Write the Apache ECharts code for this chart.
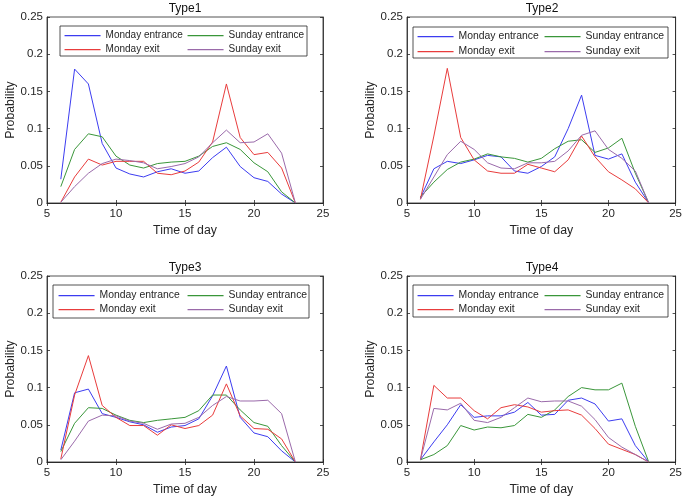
<!DOCTYPE html>
<html>
<head>
<meta charset="utf-8">
<script src="https://cdn.jsdelivr.net/npm/echarts@6/dist/echarts.min.js"></script>
<style>
html,body{margin:0;padding:0;background:#fff;}
#main{width:685px;height:503px;}
</style>
</head>
<body>
<div id="main"></div>
<script>
var hours = [6,7,8,9,10,11,12,13,14,15,16,17,18,19,20,21,22,23];
var seriesNames = ['Monday entrance','Sunday entrance','Monday exit','Sunday exit'];
var panelTitles = ['Type1','Type2','Type3','Type4'];
var xTicks = [5,10,15,20,25];
var yTicks = [0,0.05,0.1,0.15,0.2,0.25];

var type1MonEntrance = [0.032,0.180,0.160,0.080,0.047,0.039,0.035,0.042,0.046,0.040,0.043,0.061,0.075,0.049,0.034,0.029,0.012,0];
var type1SunEntrance = [0.022,0.072,0.093,0.089,0.063,0.051,0.047,0.053,0.055,0.056,0.063,0.076,0.081,0.072,0.054,0.042,0.015,0];
var type1MonExit     = [0.001,0.035,0.059,0.051,0.056,0.056,0.056,0.040,0.038,0.043,0.055,0.082,0.160,0.088,0.065,0.068,0.047,0];
var type1SunExit     = [0.001,0.022,0.040,0.053,0.059,0.057,0.054,0.046,0.049,0.053,0.062,0.081,0.098,0.081,0.082,0.093,0.067,0];

var type2MonEntrance = [0.007,0.046,0.056,0.053,0.058,0.064,0.062,0.043,0.040,0.049,0.062,0.100,0.145,0.064,0.059,0.066,0.028,0];
var type2SunEntrance = [0.008,0.028,0.045,0.055,0.059,0.066,0.062,0.060,0.055,0.060,0.073,0.083,0.085,0.068,0.074,0.087,0.040,0];
var type2MonExit     = [0.005,0.090,0.181,0.088,0.058,0.043,0.040,0.040,0.052,0.047,0.042,0.058,0.090,0.062,0.042,0.031,0.019,0];
var type2SunExit     = [0.005,0.035,0.065,0.083,0.072,0.054,0.047,0.046,0.054,0.054,0.056,0.070,0.091,0.097,0.072,0.060,0.043,0];

var type3MonEntrance = [0.016,0.093,0.098,0.065,0.060,0.054,0.050,0.040,0.047,0.049,0.058,0.089,0.129,0.060,0.039,0.034,0.015,0];
var type3SunEntrance = [0.014,0.052,0.073,0.072,0.063,0.056,0.053,0.056,0.058,0.060,0.069,0.090,0.090,0.070,0.053,0.048,0.022,0];
var type3MonExit     = [0.004,0.090,0.143,0.076,0.060,0.049,0.049,0.036,0.050,0.045,0.049,0.063,0.105,0.062,0.045,0.044,0.031,0];
var type3SunExit     = [0.003,0.028,0.055,0.063,0.062,0.055,0.052,0.044,0.051,0.052,0.060,0.076,0.088,0.082,0.082,0.083,0.065,0];

var type4MonEntrance = [0.003,0.027,0.050,0.077,0.060,0.062,0.062,0.067,0.080,0.063,0.064,0.083,0.086,0.078,0.055,0.058,0.022,0];
var type4SunEntrance = [0.003,0.010,0.022,0.049,0.043,0.047,0.046,0.049,0.064,0.060,0.070,0.088,0.100,0.097,0.097,0.106,0.048,0];
var type4MonExit     = [0.003,0.103,0.086,0.086,0.069,0.058,0.073,0.077,0.074,0.067,0.069,0.070,0.063,0.045,0.024,0.017,0.010,0];
var type4SunExit     = [0.003,0.072,0.070,0.079,0.056,0.053,0.060,0.073,0.086,0.081,0.082,0.082,0.075,0.057,0.033,0.020,0.010,0];

var panelData = [
  [type1MonEntrance,type1SunEntrance,type1MonExit,type1SunExit],
  [type2MonEntrance,type2SunEntrance,type2MonExit,type2SunExit],
  [type3MonEntrance,type3SunEntrance,type3MonExit,type3SunExit],
  [type4MonEntrance,type4SunEntrance,type4MonExit,type4SunExit]
];

var colors = ['#3c3cf0','#3a963a','#e83c3c','#9a6aaa'];
var FONT = '"Liberation Sans", Arial, Helvetica, sans-serif';
var AX = '#262626';

var grids = [
  {left:47, top:17, width:276, height:186},
  {left:407, top:17, width:270, height:186},
  {left:47, top:276, width:276, height:186},
  {left:407, top:276, width:270, height:186}
];
var legendBoxes = [
  {x:60, y:26, w:247, h:30, c1:64, c2:187, r1:35, r2:49, fs:10},
  {x:413, y:27, w:255, h:31, c1:417, c2:544, r1:36, r2:51, fs:10.4},
  {x:53, y:285, w:256, h:33, c1:58, c2:187, r1:295, r2:309, fs:10.4},
  {x:413, y:285, w:255, h:32, c1:417, c2:544, r1:295, r2:309, fs:10.4}
];

var option = {
  animation:false,
  backgroundColor:'#fff',
  textStyle:{fontFamily:FONT},
  title:[], grid:[], xAxis:[], yAxis:[], series:[], legend:[], graphic:[]
};

grids.forEach(function(g, i){
  option.grid.push({left:g.left, top:g.top, width:g.width, height:g.height, show:true, borderColor:AX, borderWidth:0.8, backgroundColor:'#fff', containLabel:false});
  option.title.push({text:panelTitles[i], left:g.left + g.width/2, top:g.top - 14, textAlign:'center', padding:0,
    textStyle:{fontFamily:FONT, fontSize:12, fontWeight:'normal', color:'#111'}});
  var tickStyle = {show:true, inside:true, length:3, lineStyle:{color:AX, width:0.8}};
  option.xAxis.push({type:'value', gridIndex:i, min:xTicks[0], max:xTicks[xTicks.length-1], interval:5, position:'bottom',
    name:'Time of day', nameLocation:'middle', nameGap:22,
    nameTextStyle:{fontFamily:FONT, fontSize:12.3, color:AX},
    axisLine:{show:true, lineStyle:{color:AX, width:0.8}}, axisTick:tickStyle,
    axisLabel:{fontFamily:FONT, fontSize:11.5, color:AX, margin:5}, splitLine:{show:false}});
  option.xAxis.push({type:'value', gridIndex:i, min:xTicks[0], max:xTicks[xTicks.length-1], interval:5, position:'top',
    axisLine:{show:true, lineStyle:{color:AX, width:0.8}}, axisTick:tickStyle, axisLabel:{show:false}, splitLine:{show:false}});
  option.yAxis.push({type:'value', gridIndex:i, min:yTicks[0], max:yTicks[yTicks.length-1], interval:0.05, position:'left',
    name:'Probability', nameLocation:'middle', nameGap:29,
    nameTextStyle:{fontFamily:FONT, fontSize:12.3, color:AX},
    axisLine:{show:true, lineStyle:{color:AX, width:0.8}}, axisTick:tickStyle,
    axisLabel:{fontFamily:FONT, fontSize:11.5, color:AX, margin:4}, splitLine:{show:false}});
  option.yAxis.push({type:'value', gridIndex:i, min:yTicks[0], max:yTicks[yTicks.length-1], interval:0.05, position:'right',
    axisLine:{show:true, lineStyle:{color:AX, width:0.8}}, axisTick:tickStyle, axisLabel:{show:false}, splitLine:{show:false}});

  panelData[i].forEach(function(arr, s){
    option.series.push({
      type:'line', name:seriesNames[s], xAxisIndex:i*2, yAxisIndex:i*2,
      data: hours.map(function(h, k){ return [h, arr[k]]; }),
      symbol:'none', lineStyle:{color:colors[s], width:1}, itemStyle:{color:colors[s]},
      z:3
    });
  });

  var lb = legendBoxes[i];
  option.graphic.push({type:'rect', shape:{x:lb.x, y:lb.y, width:lb.w, height:lb.h}, style:{fill:'#fff', stroke:AX, lineWidth:0.8}, z:50});
  var pos = [[lb.c1, lb.r1],[lb.c2, lb.r1],[lb.c1, lb.r2],[lb.c2, lb.r2]];
  seriesNames.forEach(function(n, s){
    option.legend.push({data:[n], left:pos[s][0], top:pos[s][1]-5, padding:0, itemWidth:36, itemHeight:14, itemGap:0,
      selectedMode:false, z:60,
      itemStyle:{opacity:0},
      lineStyle:{width:1.1},
      textStyle:{fontFamily:FONT, fontSize:lb.fs, color:AX}});
  });
});

var chart = echarts.init(document.getElementById('main'), null, {renderer:'canvas'});
chart.setOption(option);
</script>
</body>
</html>
